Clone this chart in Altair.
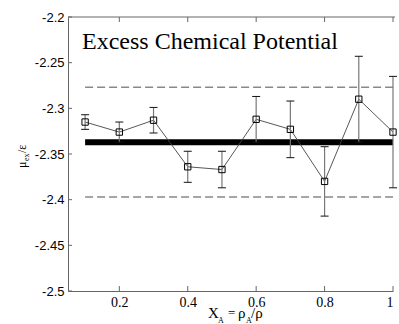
import altair as alt
import pandas as pd

x_vals = [0.1, 0.2, 0.3, 0.4, 0.5, 0.6, 0.7, 0.8, 0.9, 1.0]
mu_vals = [-2.315, -2.326, -2.313, -2.364, -2.367, -2.312, -2.323, -2.380, -2.290, -2.326]
err_vals = [0.008, 0.011, 0.014, 0.017, 0.020, 0.025, 0.031, 0.038, 0.047, 0.061]
mean_val = -2.337
band_upper = -2.277
band_lower = -2.397
x_ticks = [0.2, 0.4, 0.6, 0.8, 1.0]
y_ticks = [-2.5, -2.45, -2.4, -2.35, -2.3, -2.25, -2.2]

W, H = 325, 274
SERIF = "Liberation Serif"
SANS = "Liberation Sans"

df = pd.DataFrame({"x": x_vals, "mu": mu_vals, "err": err_vals})
df["lo"] = df["mu"] - df["err"]
df["hi"] = df["mu"] + df["err"]

xs = alt.Scale(domain=[0.05, 1.0], nice=False, zero=False)
ys = alt.Scale(domain=[-2.5, -2.2], nice=False, zero=False)

xaxis = alt.Axis(values=x_ticks, labelExpr="'' + datum.value", ticks=False, tickSize=0, grid=False,
                 labelFont=SERIF, labelFontSize=14, labelColor="black", labelPadding=4,
                 domainColor="#666", title=None)
yaxis = alt.Axis(values=y_ticks, labelExpr="'' + datum.value", ticks=False, tickSize=0, grid=False,
                 labelFont=SANS, labelFontSize=13, labelColor="black",
                 labelPadding=4, domainColor="#666", title=None)

base = alt.Chart(df)

line = base.mark_line(color="#444", strokeWidth=0.9).encode(
    x=alt.X("x:Q", scale=xs, axis=xaxis),
    y=alt.Y("mu:Q", scale=ys, axis=yaxis),
)

stems = base.mark_rule(color="#777", strokeWidth=1.2).encode(
    x="x:Q", y="lo:Q", y2="hi:Q")
cap_lo = base.mark_tick(orient="horizontal", size=8, thickness=1, color="#111", opacity=1).encode(
    x="x:Q", y="lo:Q")
cap_hi = base.mark_tick(orient="horizontal", size=8, thickness=1, color="#111", opacity=1).encode(
    x="x:Q", y="hi:Q")

pts = base.mark_point(shape="square", filled=False, size=40, color="black",
                      strokeWidth=1, opacity=1).encode(x="x:Q", y="mu:Q")

ref = pd.DataFrame({"x0": [x_vals[0]], "x1": [x_vals[-1]],
                    "m": [mean_val], "u": [band_upper], "l": [band_lower]})
rbase = alt.Chart(ref)
mean_rule = rbase.mark_rule(color="black", strokeWidth=6).encode(
    x="x0:Q", x2="x1:Q", y="m:Q")
up_rule = rbase.mark_rule(color="#888", strokeWidth=1.5, strokeDash=[8, 4]).encode(
    x="x0:Q", x2="x1:Q", y="u:Q")
lo_rule = rbase.mark_rule(color="#888", strokeWidth=1.5, strokeDash=[8, 4]).encode(
    x="x0:Q", x2="x1:Q", y="l:Q")

# inward tick marks
xt = alt.Chart(pd.DataFrame({"t": x_ticks}))
xt_bot = xt.mark_rule(color="#666").encode(x="t:Q", y=alt.value(H), y2=alt.value(H - 5))
xt_top = xt.mark_rule(color="#666").encode(x="t:Q", y=alt.value(0), y2=alt.value(5))
yt = alt.Chart(pd.DataFrame({"t": y_ticks}))
yt_left = yt.mark_rule(color="#666").encode(y="t:Q", x=alt.value(0), x2=alt.value(4))

top_border = alt.Chart(ref).mark_rule(color="#666", strokeWidth=1).encode(
    x=alt.value(0), x2=alt.value(W + 2), y=alt.value(0))

title = alt.Chart(ref).mark_text(text="Excess Chemical Potential", font=SERIF, fontSize=24,
                                 align="left", baseline="alphabetic", color="black").encode(
    x=alt.value(14), y=alt.value(32))


def txt(t, x, y, size, angle=0):
    return alt.Chart(ref).mark_text(text=t, font=SERIF, fontSize=size, align="left",
                                    baseline="alphabetic", color="black", angle=angle).encode(
        x=alt.value(x), y=alt.value(y))


xt_parts = [
    txt("X", 140, 301, 15),
    txt("A", 150, 306, 8),
    txt("=", 160, 300, 13),
    txt("ρ", 170, 301, 15),
    txt("A", 178, 306, 8),
    txt("/ρ", 183, 301, 15),
]
yt_parts = [
    txt("μ", -42, 151, 12, 270),
    txt("ex", -39, 144, 8, 270),
    txt("/ε", -42, 136, 12, 270),
]

chart = alt.layer(
    up_rule, lo_rule, mean_rule, line, stems, cap_lo, cap_hi, pts,
    xt_bot, xt_top, yt_left, top_border, title, *xt_parts, *yt_parts
).properties(
    width=W, height=H,
    autosize=alt.AutoSizeParams(type="none"),
    padding={"left": 68, "top": 17, "right": 6, "bottom": 33},
    background="white",
).configure_view(stroke=None)

chart.save("out.html", embed_options={"renderer": "svg", "actions": False})
